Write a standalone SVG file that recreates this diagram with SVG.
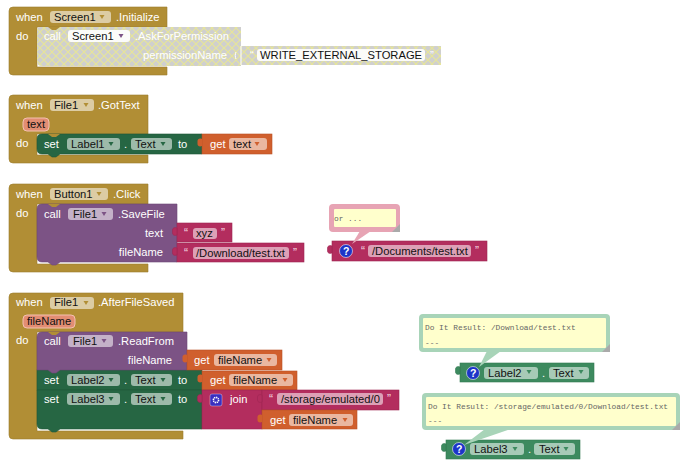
<svg xmlns="http://www.w3.org/2000/svg" width="690" height="473" viewBox="0 0 690 473">
<style>
text{font-family:"Liberation Sans",Arial,sans-serif;font-size:11.2px;fill:#fff}
.k{fill:#111}
.e{text-anchor:end}
.m{font-family:"Liberation Mono","Courier New",monospace;font-size:7.85px;fill:#666}
.f{fill:#fff;fill-opacity:.55}
.f2{fill:#fff;fill-opacity:.9}
.gold{fill:#b18e35;stroke:#9c7d2e;stroke-width:.6}
.pur{fill:#7c5385;stroke:#6c4875;stroke-width:.6}
.grn{fill:#266643;stroke:#1f5838;stroke-width:.6}
.lgr{fill:#3d8a5f;stroke:#347a53;stroke-width:.6}
.org{fill:#d05f2d;stroke:#b85226;stroke-width:.6}
.pnk{fill:#b32d5e;stroke:#9e2752;stroke-width:.6}
.par{fill:#e28d73;stroke:#f3c1b1;stroke-width:1}
.q{fill:#f6d5e0;font-size:12px}
.tg{fill:#b18e35}.tp{fill:#7c5385}.tn{fill:#266643}.tl{fill:#3d8a5f}.to{fill:#d05f2d}
</style>
<defs>
<path id="tri" d="M-2.5 0h5l-2.5 4z"/>
<path id="tab" d="M0 3c-2.500-1-4.500 0-4.500 2v3c0 2 2 3 4.500 2z"/>
<path id="bump" d="M48 0l4 3h4l4-3z"/>
<pattern id="hatch" width="8" height="8" patternUnits="userSpaceOnUse">
<rect width="8" height="8" fill="#cfcfcf"/>
<path d="M0 0L8 8M8 0L0 8" stroke="#e6e59a" stroke-width="1.2"/>
</pattern>
<g id="help"><circle r="6.500" fill="#1c35c8" stroke="#fff" stroke-opacity=".7" stroke-width=".8"/><text x="-3" y="4" style="font-size:10.500px;font-weight:bold">?</text></g>
</defs>

<g id="when-screen1-initialize">
<path class="gold" d="M13 7H167V27H37V67H167V75H13Q9 75 9 71V11Q9 7 13 7Z"/>
<rect class="f" x="50" y="11" width="61" height="12" rx="3"/>
<text x="16" y="21">when</text><text class="k" x="54" y="21">Screen1</text><use href="#tri" class="tg" x="102" y="15"/><text x="116" y="21">.Initialize</text>
<text x="16" y="40">do</text>
</g>
<g id="call-askforpermission">
<path fill="url(#hatch)" d="M41 27H241V46H441V65H241V66H42Q37 66 37 61V31Q37 27 41 27Z"/>
<use href="#bump" class="tg" x="0" y="27"/>
<rect class="f2" x="68" y="30" width="62" height="12" rx="3"/>
<text x="44" y="40">call</text><text class="k" x="72" y="40">Screen1</text><use href="#tri" fill="#7c5385" x="121" y="34"/><text x="135" y="40">.AskForPermission</text>
<text class="e" x="227" y="59">permissionName</text>
<path d="M241 46v19" stroke="#fff" stroke-width="1"/><path d="M236 52c-1 2-1 5 0 7" stroke="#fff" fill="none"/>
<rect class="f2" x="257" y="49" width="168" height="12" rx="3"/>
<text x="250" y="59">“</text><text class="k" x="260" y="59">WRITE_EXTERNAL_STORAGE</text><text x="430" y="59">”</text>
</g>

<g id="when-file1-gottext">
<path class="gold" d="M13 95H148V134H37V155H148V163H13Q9 163 9 159V99Q9 95 13 95Z"/>
<rect class="f" x="50" y="99" width="44" height="12" rx="3"/>
<text x="16" y="109">when</text><text class="k" x="54" y="109">File1</text><use href="#tri" class="tg" x="86" y="103"/><text x="98" y="109">.GotText</text>
<rect class="par" x="23" y="118" width="26" height="13" rx="4"/><text class="k" x="27" y="128">text</text>
<text x="16" y="147">do</text>
</g>
<g id="set-label1">
<path class="grn" d="M42 134H202V154H60L56 157H52L48 154H42Q37 154 37 149V139Q37 134 42 134Z"/>
<use href="#bump" class="tg" x="0" y="134"/>
<rect class="f" x="67" y="138" width="53" height="12" rx="3"/><rect class="f" x="131" y="138" width="41" height="12" rx="3"/>
<text x="44" y="148">set</text><text class="k" x="71" y="148">Label1</text><use href="#tri" class="tn" x="111" y="142"/><text x="124" y="148">.</text><text class="k" x="135" y="148">Text</text><use href="#tri" class="tn" x="163" y="142"/><text x="178" y="148">to</text>
</g>
<g id="get-text">
<rect class="org" x="202" y="134" width="70" height="20"/><use href="#tab" class="to" x="202" y="136"/>
<rect class="f" x="229" y="138" width="38" height="12" rx="3"/>
<text x="210" y="148">get</text><text class="k" x="233" y="148">text</text><use href="#tri" class="to" x="257" y="142"/>
</g>

<g id="when-button1-click">
<path class="gold" d="M13 184H148V204H37V264H148V272H13Q9 272 9 268V188Q9 184 13 184Z"/>
<rect class="f" x="50" y="188" width="58" height="12" rx="3"/>
<text x="16" y="198">when</text><text class="k" x="54" y="198">Button1</text><use href="#tri" class="tg" x="99" y="192"/><text x="113" y="198">.Click</text>
<text x="16" y="217">do</text>
</g>
<g id="call-savefile">
<path class="pur" d="M42 204H177V262H60L56 265H52L48 262H42Q37 262 37 257V209Q37 204 42 204Z"/>
<use href="#bump" class="tg" x="0" y="204"/>
<rect class="f" x="68" y="208" width="45" height="12" rx="3"/>
<text x="44" y="218">call</text><text class="k" x="73" y="218">File1</text><use href="#tri" class="tp" x="104" y="212"/><text x="118" y="218">.SaveFile</text>
<text class="e" x="163" y="237">text</text><text class="e" x="163" y="256">fileName</text>
</g>
<g id="text-xyz">
<rect class="pnk" x="177" y="223" width="55" height="19"/><use href="#tab" class="pnk" x="177" y="225"/>
<rect class="f" x="193" y="228" width="24" height="11" rx="3"/>
<text class="q" x="184" y="237">“</text><text class="k" x="196" y="237">xyz</text><text class="q" x="221" y="237">”</text>
</g>
<g id="text-download">
<rect class="pnk" x="177" y="243" width="127" height="19"/><use href="#tab" class="pnk" x="177" y="245"/>
<rect class="f" x="193" y="247" width="96" height="12" rx="3"/>
<text class="q" x="184" y="257">“</text><text class="k" x="196" y="257">/Download/test.txt</text><text class="q" x="293" y="257">”</text>
</g>
<g id="text-documents">
<rect class="pnk" x="332" y="241" width="155" height="20"/><use href="#tab" class="pnk" x="332" y="243"/>
<use href="#help" x="346" y="251"/>
<rect class="f" x="368" y="245" width="103" height="12" rx="3"/>
<text class="q" x="361" y="255">“</text><text class="k" x="372" y="255">/Documents/test.txt</text><text class="q" x="475" y="255">”</text>
</g>

<g id="when-file1-afterfilesaved">
<path class="gold" d="M13 293H183V332H37V431H183V439H13Q9 439 9 435V297Q9 293 13 293Z"/>
<rect class="f" x="50" y="297" width="44" height="12" rx="3"/>
<text x="16" y="306">when</text><text class="k" x="54" y="306">File1</text><use href="#tri" class="tg" x="86" y="301"/><text x="98" y="306">.AfterFileSaved</text>
<rect class="par" x="23" y="315" width="52" height="13" rx="4"/><text class="k" x="27" y="325">fileName</text>
<text x="16" y="344">do</text>
</g>
<g id="set-label2">
<rect class="grn" x="37" y="370" width="165" height="20"/>
<rect class="f" x="67" y="374" width="53" height="12" rx="3"/><rect class="f" x="131" y="374" width="41" height="12" rx="3"/>
<text x="44" y="384">set</text><text class="k" x="71" y="384">Label2</text><use href="#tri" class="tn" x="111" y="378"/><text x="124" y="384">.</text><text class="k" x="135" y="384">Text</text><use href="#tri" class="tn" x="163" y="378"/><text x="178" y="384">to</text>
</g>
<g id="call-readfrom">
<path class="pur" d="M42 332H187V370H60L56 373H52L48 370H37V337Q37 332 42 332Z"/>
<use href="#bump" class="tg" x="0" y="332"/>
<rect class="f" x="68" y="335" width="45" height="12" rx="3"/>
<text x="44" y="345">call</text><text class="k" x="73" y="345">File1</text><use href="#tri" class="tp" x="104" y="339"/><text x="118" y="345">.ReadFrom</text>
<text class="e" x="172" y="364">fileName</text>
</g>
<g id="get-filename-1">
<rect class="org" x="187" y="350" width="95" height="20"/><use href="#tab" class="to" x="187" y="352"/>
<rect class="f" x="214" y="354" width="63" height="12" rx="3"/>
<text x="194" y="364">get</text><text class="k" x="218" y="364">fileName</text><use href="#tri" class="to" x="269" y="358"/>
</g>
<g id="get-filename-2">
<rect class="org" x="202" y="371" width="95" height="19"/><use href="#tab" class="to" x="202" y="372"/>
<rect class="f" x="229" y="374" width="64" height="12" rx="3"/>
<text x="210" y="384">get</text><text class="k" x="233" y="384">fileName</text><use href="#tri" class="to" x="285" y="378"/>
</g>
<g id="set-label3">
<path class="grn" d="M37 390H202V429H60L56 432H52L48 429H42Q37 429 37 424Z"/>
<rect class="f" x="67" y="393" width="53" height="12" rx="3"/><rect class="f" x="131" y="393" width="41" height="12" rx="3"/>
<text x="44" y="403">set</text><text class="k" x="71" y="403">Label3</text><use href="#tri" class="tn" x="111" y="397"/><text x="124" y="403">.</text><text class="k" x="135" y="403">Text</text><use href="#tri" class="tn" x="163" y="397"/><text x="178" y="403">to</text>
</g>
<g id="join">
<rect class="pnk" x="202" y="390" width="60" height="39"/><use href="#tab" class="pnk" x="202" y="392"/>
<rect x="210" y="394" width="12" height="12" rx="2" fill="#3a2fc0" stroke="#fff" stroke-opacity=".5" stroke-width=".7"/>
<circle cx="216" cy="400" r="2.600" fill="none" stroke="#fff" stroke-width="1.600" stroke-dasharray="1.300 .7"/>
<text x="230" y="403">join</text>
</g>
<g id="text-storage">
<rect class="pnk" x="262" y="390" width="137" height="20"/><use href="#tab" class="pnk" x="262" y="392"/>
<rect class="f" x="277" y="393" width="106" height="12" rx="3"/>
<text class="q" x="269" y="403">“</text><text class="k" x="281" y="403">/storage/emulated/0</text><text class="q" x="387" y="403">”</text>
</g>
<g id="get-filename-3">
<rect class="org" x="262" y="410" width="95" height="19"/><use href="#tab" class="to" x="262" y="412"/>
<rect class="f" x="289" y="414" width="64" height="12" rx="3"/>
<text x="270" y="424">get</text><text class="k" x="293" y="424">fileName</text><use href="#tri" class="to" x="345" y="418"/>
</g>

<g id="label2-text">
<rect class="lgr" x="460" y="363" width="134" height="19"/><use href="#tab" class="lgr" x="460" y="364"/>
<use href="#help" x="473" y="373"/>
<rect class="f" x="484" y="367" width="54" height="12" rx="3"/><rect class="f" x="549" y="367" width="40" height="12" rx="3"/>
<text class="k" x="488" y="377">Label2</text><use href="#tri" class="tl" x="529" y="370"/><text x="542" y="377">.</text><text class="k" x="553" y="377">Text</text><use href="#tri" class="tl" x="581" y="370"/>
</g>
<g id="label3-text">
<rect class="lgr" x="446" y="440" width="134" height="19"/><use href="#tab" class="lgr" x="446" y="441"/>
<use href="#help" x="459" y="449"/>
<rect class="f" x="470" y="443" width="54" height="12" rx="3"/><rect class="f" x="534" y="443" width="41" height="12" rx="3"/>
<text class="k" x="474" y="453">Label3</text><use href="#tri" class="tl" x="515" y="447"/><text x="528" y="453">.</text><text class="k" x="539" y="453">Text</text><use href="#tri" class="tl" x="566" y="447"/>
</g>

<g id="connectors">
<path fill="#e7a4b4" d="M360 231H371L352 244Z"/>
<path fill="#a8d4b8" d="M487 351H501L479 367Z"/>
<path fill="#a8d4b8" d="M485 429H511L464 445Z"/>
</g>

<g id="comment-or">
<rect x="329" y="204" width="71" height="28" rx="4" fill="#e7a4b4"/>
<rect x="334" y="209" width="62" height="18" rx="1" fill="#ffffcc"/>
<path d="M400 224V232H392Z" fill="#aaa"/>
<text class="m" x="334" y="221">or ...</text>
</g>
<g id="comment-label2">
<rect x="419" y="314" width="191" height="38" rx="4" fill="#a8d4b8"/>
<rect x="423" y="318" width="183" height="30" rx="1" fill="#ffffcc"/>
<path d="M610 344V352H602Z" fill="#aaa"/>
<text class="m" x="425" y="330">Do It Result: /Download/test.txt</text><text class="m" x="425" y="345">---</text>
</g>
<g id="comment-label3">
<rect x="422" y="393" width="258" height="37" rx="4" fill="#a8d4b8"/>
<rect x="426" y="397" width="250" height="29" rx="1" fill="#ffffcc"/>
<path d="M680 422V430H672Z" fill="#aaa"/>
<text class="m" x="428" y="409">Do It Result: /storage/emulated/0/Download/test.txt</text><text class="m" x="428" y="423">---</text>
</g>
</svg>
